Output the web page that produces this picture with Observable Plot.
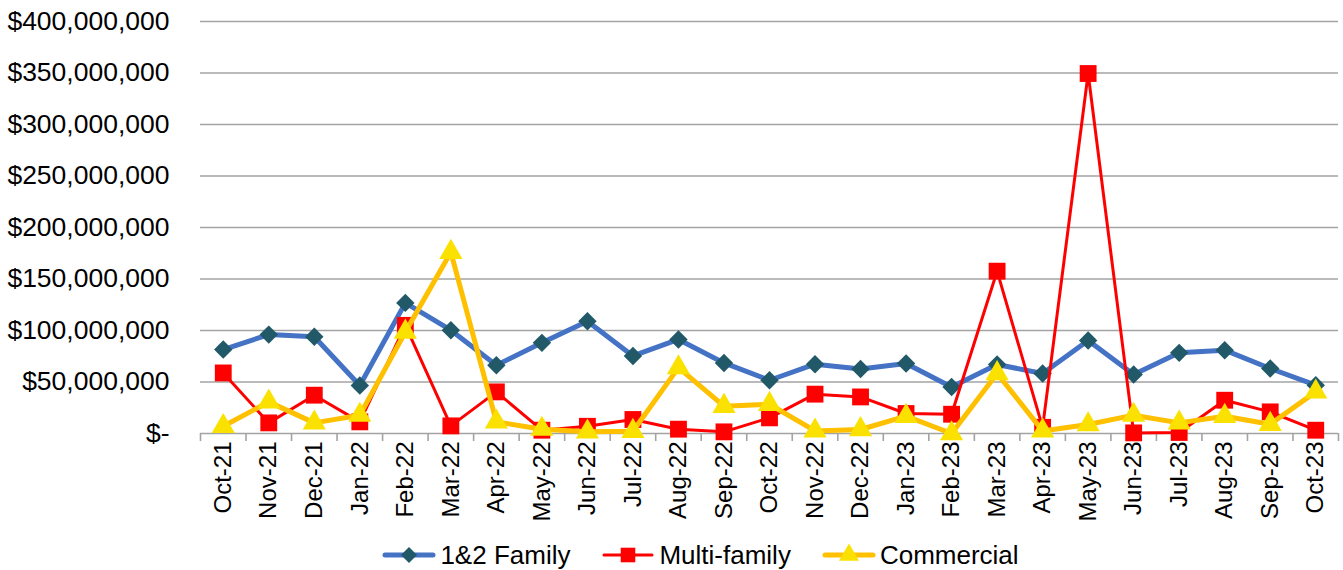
<!DOCTYPE html>
<html>
<head>
<meta charset="utf-8">
<script src="https://cdn.jsdelivr.net/npm/d3@7"></script>
<script src="https://cdn.jsdelivr.net/npm/@observablehq/plot@0.6"></script>
<style>
  html, body { margin: 0; padding: 0; background: #fff; }
  body { width: 1343px; height: 570px; overflow: hidden; font-family: "Liberation Sans", Arial, sans-serif; }
  #legend { height: 30px; display: flex; justify-content: center; align-items: center; font-size: 26px; color: #000; padding-left: 57px; box-sizing: border-box; }
  .item { display: flex; align-items: center; margin: 0 15px; }
  .item svg { margin-right: 3px; }
</style>
</head>
<body>
<div id="chart"></div>
<div id="legend"></div>
<script>
const months = ["Oct-21","Nov-21","Dec-21","Jan-22","Feb-22","Mar-22","Apr-22","May-22","Jun-22","Jul-22","Aug-22","Sep-22","Oct-22","Nov-22","Dec-22","Jan-23","Feb-23","Mar-23","Apr-23","May-23","Jun-23","Jul-23","Aug-23","Sep-23","Oct-23"];
const family12 = [81.5e6, 96e6, 94e6, 46.6e6, 126.8e6, 100.3e6, 66.3e6, 88e6, 109e6, 75.3e6, 91.3e6, 68.5e6, 51.7e6, 67.3e6, 62.7e6, 68e6, 45.2e6, 67e6, 58.3e6, 90.3e6, 57.3e6, 78.3e6, 80.9e6, 63.1e6, 46.9e6];
const multiFamily = [58.8e6, 10.3e6, 37.2e6, 11.3e6, 105e6, 7.4e6, 40.4e6, 3.2e6, 7e6, 13.6e6, 4.2e6, 1.6e6, 15.2e6, 38.2e6, 35.5e6, 19.4e6, 18.7e6, 157.6e6, 6e6, 349.5e6, 0.6e6, 1e6, 32.3e6, 21e6, 3.2e6];
const commercial = [7e6, 30.7e6, 10.3e6, 17.8e6, 98.6e6, 176e6, 11.3e6, 4.2e6, 1.6e6, 2.2e6, 64e6, 26.5e6, 28.4e6, 2.5e6, 3.9e6, 16.8e6, 0, 58.3e6, 2.5e6, 8.7e6, 17.8e6, 10.3e6, 16.8e6, 9e6, 40.4e6];
const yTicks = [0, 50e6, 100e6, 150e6, 200e6, 250e6, 300e6, 350e6, 400e6];
const seriesNames = ["1&2 Family", "Multi-family", "Commercial"];

const styles = {
  "1&2 Family": {line: "#4472C4", width: 5, marker: "#215968", symbol: "diamond2", r: 8.3},
  "Multi-family": {line: "#FF0000", width: 3, marker: "#FF0000", symbol: "square", r: 9.5},
  "Commercial": {line: "#FFC000", width: 5, marker: "#FAE100", symbol: "triangle", r: 8.6}
};

const seriesValues = [family12, multiFamily, commercial];
const rows = seriesNames.map((name, s) => seriesValues[s].map((v, i) => ({i, month: months[i], value: v, series: name})));

const idx = months.map((_, i) => i);
const edges = months.map((_, i) => i - 0.5).concat([months.length - 0.5]);

const fmt = d3.format(",");
const marks = [
  Plot.ruleY(yTicks, {stroke: "#a3a3a3", strokeWidth: 1.6}),
  Plot.axisX({ticks: edges, tickSize: 8, stroke: "#a3a3a3", strokeWidth: 1.6, text: null, label: null}),
  Plot.axisX({ticks: idx, tickSize: 0, tickPadding: 8, tickRotate: -90, tickFormat: i => months[i], fontSize: 24, fill: "#000", label: null}),
  Plot.axisY({ticks: yTicks, tickSize: 0, tickPadding: 31, tickFormat: d => d === 0 ? "$-" : "$" + fmt(d), fontSize: 26.5, fill: "#000", label: null})
];
seriesNames.forEach((name, s) => {
  const st = styles[name];
  marks.push(Plot.line(rows[s], {x: "i", y: "value", stroke: st.line, strokeWidth: st.width, strokeLinejoin: "round", strokeLinecap: "round"}));
  marks.push(Plot.dot(rows[s], {x: "i", y: "value", symbol: () => st.symbol, fill: st.marker, r: st.r, stroke: "none"}));
});

const chart = Plot.plot({
  width: 1343,
  height: 540,
  marginTop: 21,
  marginBottom: 107,
  marginLeft: 200,
  marginRight: 5,
  style: {fontFamily: "'Liberation Sans', Arial, sans-serif", fontSize: "24px", color: "#000", background: "#fff"},
  x: {type: "linear", domain: [-0.5, months.length - 0.5], label: null},
  y: {domain: [0, 400e6], label: null},
  symbol: {type: "identity"},
  marks
});
document.getElementById("chart").appendChild(chart);

// legend
const legend = document.getElementById("legend");
const sym = {diamond2: d3.symbolDiamond2, square: d3.symbolSquare, triangle: d3.symbolTriangle};
seriesNames.forEach(name => {
  const st = styles[name];
  const item = document.createElement("div");
  item.className = "item";
  const w = 56, h = 26;
  const path = d3.symbol(sym[st.symbol], st.r * st.r * Math.PI * 0.75)();
  item.innerHTML = `<svg width="${w}" height="${h}"><line x1="4" x2="${w-4}" y1="${h/2}" y2="${h/2}" stroke="${st.line}" stroke-width="${st.width}" stroke-linecap="round"/><path d="${path}" transform="translate(${w/2},${h/2})" fill="${st.marker}"/></svg><span>${name}</span>`;
  legend.appendChild(item);
});
</script>
</body>
</html>
